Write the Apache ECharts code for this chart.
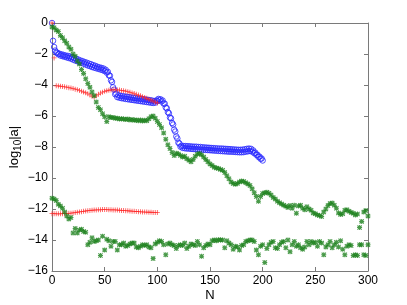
<!DOCTYPE html>
<html>
<head>
<meta charset="utf-8">
<script src="https://cdn.jsdelivr.net/npm/echarts@6/dist/echarts.min.js"></script>
<style>html,body{margin:0;padding:0;background:#fff}#c{width:407px;height:305px}</style>
</head>
<body>
<div id="c"></div>
<script>
// x ticks and y ticks
const xTicks = [0, 50, 100, 150, 200, 250, 300];
const yTicks = [-16, -14, -12, -10, -8, -6, -4, -2, 0];

// Blue circles: N = 0..200, step 1
const blueStep = 1;
const blueVals = [
  0, -1.15, -1.55, -1.78, -1.9, -1.92, -2.02, -1.98, -2.1, -2.02,
  -2.14, -2.06, -2.18, -2.1, -2.22, -2.12, -2.26, -2.16, -2.3, -2.2,
  -2.36, -2.26, -2.42, -2.3, -2.46, -2.36, -2.52, -2.42, -2.56, -2.46,
  -2.62, -2.52, -2.68, -2.56, -2.74, -2.62, -2.78, -2.66, -2.84, -2.72,
  -2.88, -2.76, -2.92, -2.82, -2.96, -2.86, -3.0, -2.9, -3.04, -2.94,
  -3.1, -3.02, -3.2, -3.15, -3.38, -3.4, -3.7, -3.8, -4.15, -4.3,
  -4.6, -4.55, -4.78, -4.66, -4.82, -4.7, -4.85, -4.72, -4.87, -4.74,
  -4.9, -4.76, -4.92, -4.78, -4.94, -4.8, -4.96, -4.82, -4.98, -4.84,
  -5.0, -4.86, -5.02, -4.88, -5.04, -4.9, -5.06, -4.92, -5.08, -4.94,
  -5.1, -4.96, -5.12, -4.98, -5.14, -5.0, -5.16, -5.04, -5.14, -5.0,
  -5.04, -4.9, -4.98, -4.92, -5.06, -5.0, -5.2, -5.2, -5.45, -5.5,
  -5.75, -5.82, -6.1, -6.15, -6.45, -6.55, -6.88, -7.0, -7.32, -7.45,
  -7.72, -7.78, -7.98, -7.92, -8.06, -7.94, -8.08, -7.94, -8.1, -7.95,
  -8.1, -7.96, -8.12, -7.97, -8.13, -7.98, -8.14, -7.98, -8.15, -8.0,
  -8.16, -8.0, -8.17, -8.02, -8.18, -8.03, -8.19, -8.04, -8.2, -8.05,
  -8.21, -8.06, -8.22, -8.07, -8.23, -8.08, -8.24, -8.09, -8.25, -8.1,
  -8.26, -8.1, -8.27, -8.11, -8.28, -8.12, -8.29, -8.13, -8.3, -8.14,
  -8.3, -8.15, -8.31, -8.16, -8.32, -8.17, -8.33, -8.18, -8.34, -8.18,
  -8.34, -8.17, -8.33, -8.15, -8.3, -8.12, -8.28, -8.1, -8.26, -8.12,
  -8.3, -8.22, -8.4, -8.36, -8.5, -8.5, -8.64, -8.62, -8.76, -8.74,
  -8.87
];

// Red plus, upper and lower: N = 0..100, step 2
const redStep = 2;
const redUpper = [
  0, -2.25, -4.05, -4.06, -4.08, -4.1, -4.12, -4.14, -4.17, -4.2,
  -4.23, -4.27, -4.3, -4.35, -4.4, -4.45, -4.5, -4.57, -4.64, -4.72,
  -4.77, -4.7, -4.6, -4.52, -4.46, -4.41, -4.37, -4.34, -4.32, -4.31,
  -4.31, -4.32, -4.33, -4.35, -4.37, -4.4, -4.43, -4.47, -4.51, -4.55,
  -4.6, -4.65, -4.7, -4.75, -4.8, -4.86, -4.92, -4.98, -5.04, -5.1,
  -5.16
];
const redLower = [
  -12.3, -12.3, -12.31, -12.31, -12.31, -12.3, -12.3, -12.29, -12.28, -12.27,
  -12.25, -12.23, -12.21, -12.19, -12.17, -12.15, -12.13, -12.11, -12.1, -12.08,
  -12.07, -12.06, -12.05, -12.05, -12.04, -12.04, -12.04, -12.05, -12.05, -12.06,
  -12.06, -12.07, -12.08, -12.09, -12.1, -12.11, -12.12, -12.13, -12.14, -12.15,
  -12.16, -12.17, -12.18, -12.19, -12.2, -12.2, -12.21, -12.21, -12.22, -12.22,
  -12.22
];

// Green asterisks, upper and lower: N = 0..300, step 2
const greenStep = 2;
const greenUpper = [
  -0.25, -0.3, -0.45, -0.55, -0.8, -0.95, -1.15, -1.3, -1.55, -1.7,
  -2.0, -2.15, -2.45, -2.65, -3.0, -3.25, -3.6, -3.9, -4.15, -4.45,
  -4.7, -5.1, -5.45, -5.6, -5.85, -6.05, -6.35, -6.05, -6.1, -6.1,
  -6.15, -6.15, -6.2, -6.18, -6.2, -6.22, -6.2, -6.25, -6.22, -6.28,
  -6.25, -6.3, -6.25, -6.32, -6.28, -6.3, -6.18, -6.05, -6.0, -6.15,
  -6.35, -6.55, -6.75, -7.1, -7.5, -7.85, -8.1, -8.35, -8.55, -8.4,
  -8.45, -8.55, -8.65, -8.6, -8.75, -8.85, -8.95, -8.8, -8.6, -8.45,
  -8.42, -8.5, -8.65, -8.8, -8.95, -9.1, -9.2, -9.3, -9.35, -9.38,
  -9.45, -9.5, -9.65, -9.85, -10.05, -10.25, -10.35, -10.4, -10.35, -10.25,
  -10.2, -10.22, -10.3, -10.38, -10.48, -10.7, -10.95, -11.2, -11.5, -11.2,
  -11.0, -10.95, -10.92, -10.98, -11.1, -11.25, -11.35, -11.5, -11.6, -11.68,
  -11.75, -11.82, -11.9, -11.78, -11.95, -11.75, -12.27, -11.8, -11.75, -11.95,
  -12.05, -11.85, -12.0, -12.08, -12.25, -12.3, -12.38, -12.42, -12.48, -12.2,
  -12.0, -11.78, -11.65, -11.62, -11.75, -11.95, -12.25, -12.35, -12.3, -12.08,
  -12.05, -12.15, -12.22, -12.28, -12.38, -12.32, -13.2, -12.8, -12.2, -12.1,
  -12.45
];
const greenLower = [
  -11.3, -11.35, -11.45, -11.7, -11.8, -11.95, -12.2, -12.45, -12.65, -12.55,
  -13.55, -13.25, -13.55, -13.35, -13.3, -13.45, -13.5, -14.3, -14.15, -13.85,
  -14.1, -14.05, -14.0, -15.0, -13.75, -14.65, -13.95, -14.05, -14.4, -14.1,
  -14.1, -14.65, -14.3, -14.3, -14.2, -14.4, -14.35, -14.25, -14.2, -14.2,
  -14.45, -14.5, -14.4, -14.3, -14.35, -14.3, -14.45, -14.5, -15.2, -14.25,
  -14.15, -14.05, -14.1, -14.3, -14.95, -14.25, -14.2, -14.3, -14.35, -14.55,
  -14.35, -14.3, -14.35, -14.2, -14.55, -14.4, -14.25, -14.3, -14.35, -14.1,
  -14.3, -15.05, -14.5, -14.35, -14.25, -14.3, -14.05, -14.0, -14.05, -13.98,
  -14.0, -14.0, -14.5, -14.05, -14.2, -14.3, -14.6, -14.4, -14.45, -14.65,
  -14.35, -14.3, -14.1, -14.05, -14.0, -14.0, -14.1, -14.65, -14.95, -14.4,
  -14.3, -15.45, -14.55, -14.3, -14.15, -14.1, -14.5, -14.55, -14.3, -14.15,
  -14.1, -14.5, -14.0, -14.75, -14.3, -14.1, -14.4, -14.3, -14.5, -14.6,
  -14.45, -14.1, -14.3, -14.1, -14.2, -14.15, -14.4, -14.1, -14.2, -14.95,
  -14.45, -14.3, -14.1, -14.5, -14.3, -14.15, -14.45, -14.05, -14.6, -14.95,
  -14.4, -14.3, -14.35, -15.0, -14.95, -15.0, -14.3, -14.3, -14.95, -15.0,
  -14.3
];

const toPts = (arr, step) => arr.map((v, i) => [i * step, v]);
const minus = v => (v < 0 ? '\u2212' + Math.abs(v) : String(v));

const plusPath = 'path://M4.2,0 H5.8 V4.2 H10 V5.8 H5.8 V10 H4.2 V5.8 H0 V4.2 H4.2 Z';
const starPath = 'path://M4,0 H6 V4 H10 V6 H6 V10 H4 V6 H0 V4 H4 Z ' +
  'M0,1.6 L1.6,0 L10,8.4 L8.4,10 Z M8.4,0 L10,1.6 L1.6,10 L0,8.4 Z';

const axisCol = '#7a7a7a';
const font = 'Liberation Sans, Arial, Helvetica, sans-serif';

const chart = echarts.init(document.getElementById('c'), null, {renderer: 'canvas'});
chart.setOption({
  animation: false,
  backgroundColor: '#fff',
  grid: {left: 52, right: 39, top: 23, bottom: 34, containLabel: false, outerBoundsMode: 'none'},
  xAxis: [{
    type: 'value', min: xTicks[0], max: xTicks[xTicks.length - 1], interval: 50,
    name: 'N', nameLocation: 'middle', nameGap: 18, nameMoveOverlap: false,
    nameTextStyle: {color: '#000', fontSize: 13, fontFamily: font},
    axisLine: {show: true, onZero: false, lineStyle: {color: axisCol, width: 1}},
    axisTick: {show: true, inside: true, length: 4, lineStyle: {color: axisCol}},
    axisLabel: {color: '#000', fontSize: 12, fontFamily: font, margin: 4, formatter: minus},
    splitLine: {show: false}
  }, {
    type: 'value', position: 'top', min: 0, max: 300, interval: 50,
    axisLine: {show: true, onZero: false, lineStyle: {color: axisCol, width: 1}},
    axisTick: {show: true, inside: true, length: 4, lineStyle: {color: axisCol}},
    axisLabel: {show: false}, splitLine: {show: false}
  }],
  yAxis: [{
    type: 'value', min: yTicks[0], max: yTicks[yTicks.length - 1], interval: 2,
    name: '{a|log}{b|10}{a||a|}', nameLocation: 'middle', nameGap: 29, nameRotate: 90,
    nameMoveOverlap: false,
    nameTextStyle: {
      color: '#000', fontFamily: font,
      rich: {
        a: {fontSize: 13, fontFamily: font, color: '#000', lineHeight: 15, verticalAlign: 'top', padding: [0, 0, 4, 0]},
        b: {fontSize: 10, fontFamily: font, color: '#000', lineHeight: 11, verticalAlign: 'bottom'}
      }
    },
    axisLine: {show: true, onZero: false, lineStyle: {color: axisCol, width: 1}},
    axisTick: {show: true, inside: true, length: 4, lineStyle: {color: axisCol}},
    axisLabel: {color: '#000', fontSize: 12, fontFamily: font, margin: 4, formatter: minus},
    splitLine: {show: false}
  }, {
    type: 'value', position: 'right', min: -16, max: 0, interval: 2,
    axisLine: {show: true, onZero: false, lineStyle: {color: axisCol, width: 1}},
    axisTick: {show: true, inside: true, length: 4, lineStyle: {color: axisCol}},
    axisLabel: {show: false}, splitLine: {show: false}
  }],
  series: [
    {type: 'scatter', data: toPts(blueVals, blueStep), symbol: 'circle', symbolSize: 5.5,
     itemStyle: {color: 'rgba(0,0,255,0)', borderColor: '#2424ff', borderWidth: 0.8, opacity: 1}, silent: true},
    {type: 'scatter', data: toPts(redUpper, redStep), symbol: plusPath, symbolSize: 5,
     itemStyle: {color: '#ff2020', opacity: 0.8}, silent: true},
    {type: 'scatter', data: toPts(redLower, redStep), symbol: plusPath, symbolSize: 5,
     itemStyle: {color: '#ff2020', opacity: 0.8}, silent: true},
    {type: 'scatter', data: toPts(greenUpper, greenStep), symbol: starPath, symbolSize: 5,
     itemStyle: {color: '#1a7f1a'}, silent: true},
    {type: 'scatter', data: toPts(greenLower, greenStep), symbol: starPath, symbolSize: 5,
     itemStyle: {color: '#1a7f1a'}, silent: true}
  ]
});
</script>
</body>
</html>
